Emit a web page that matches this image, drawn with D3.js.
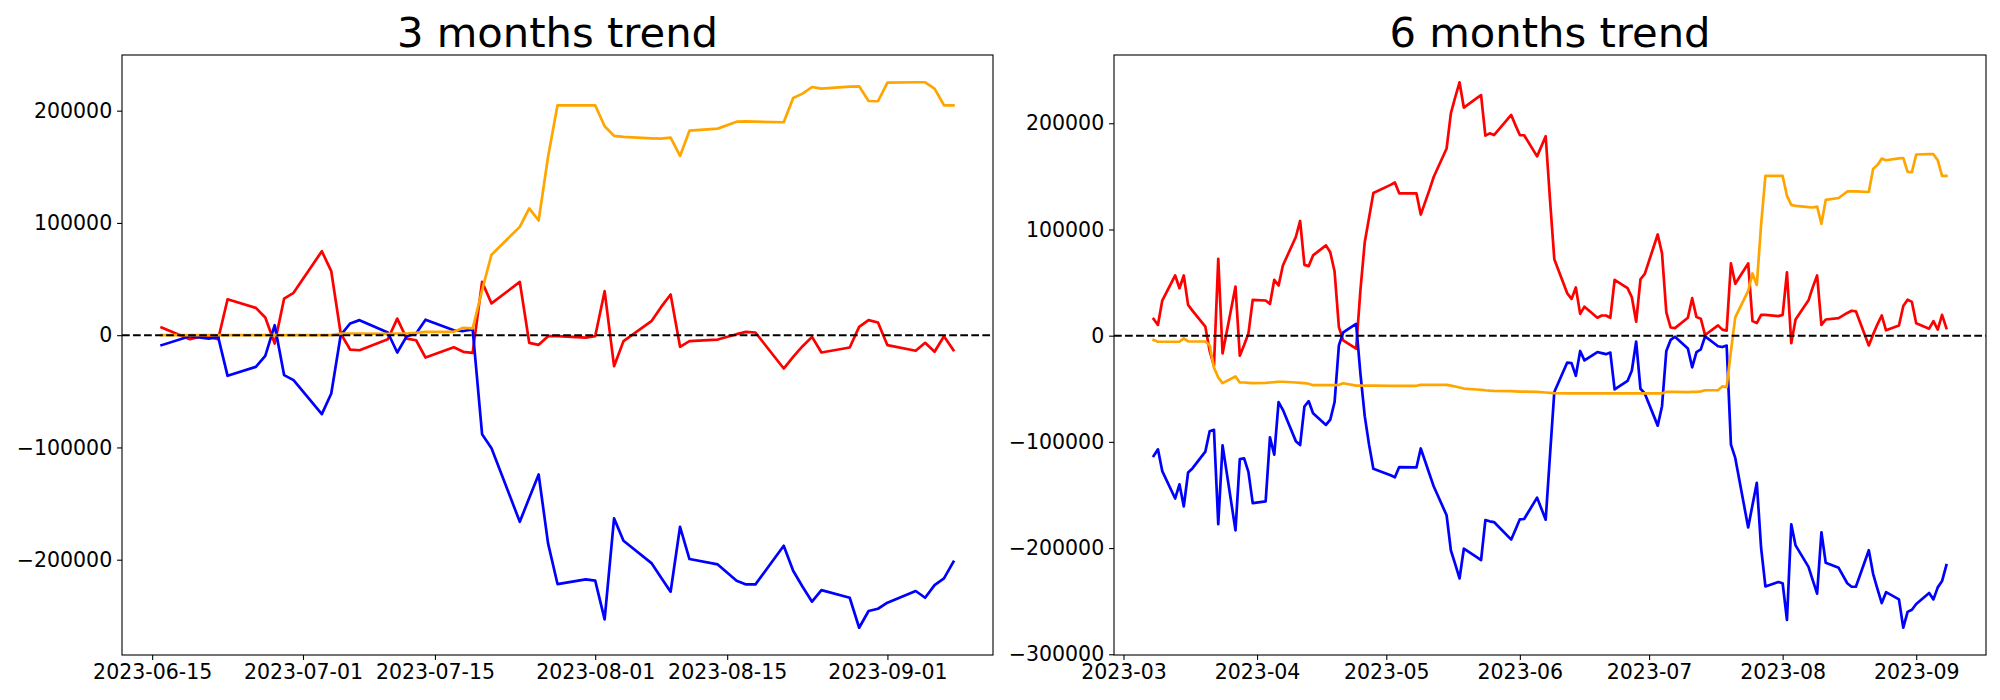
<!DOCTYPE html>
<html><head><meta charset="utf-8">
<script src="https://cdn.jsdelivr.net/npm/d3@7"></script>
<style>body{margin:0;background:#fff}</style>
</head><body>
<svg id="chart" width="2000" height="700"></svg>
<script>
const title3m = "3 months trend";
const title6m = "6 months trend";

const dates3m = [
"2023-06-16","2023-06-19","2023-06-20","2023-06-21","2023-06-22","2023-06-23",
"2023-06-26","2023-06-27","2023-06-28","2023-06-29","2023-06-30",
"2023-07-03","2023-07-04","2023-07-05","2023-07-06","2023-07-07",
"2023-07-10","2023-07-11","2023-07-12","2023-07-13","2023-07-14",
"2023-07-17","2023-07-18","2023-07-19","2023-07-20","2023-07-21",
"2023-07-24","2023-07-25","2023-07-26","2023-07-27","2023-07-28",
"2023-07-31","2023-08-01","2023-08-02","2023-08-03","2023-08-04",
"2023-08-07","2023-08-08","2023-08-09","2023-08-10","2023-08-11",
"2023-08-14","2023-08-16","2023-08-17","2023-08-18",
"2023-08-21","2023-08-22","2023-08-23","2023-08-24","2023-08-25",
"2023-08-28","2023-08-29","2023-08-30","2023-08-31","2023-09-01",
"2023-09-04","2023-09-05","2023-09-06","2023-09-07","2023-09-08"];

const blue3m = [
-8900,-1000,-2000,-3000,-1500,-36200,
-28200,-18400,8900,-35600,-40000,
-70300,-52000,0,10400,13400,
2400,-15400,-1000,1500,13800,
4400,3700,5100,-88200,-100700,
-166200,-145000,-124100,-185500,-221700,
-217600,-218700,-253200,-163200,-183100,
-203300,-216000,-228500,-170700,-199400,
-204200,-218700,-222000,-222000,
-187600,-209800,-224100,-237400,-227100,
-233900,-260600,-245700,-243700,-238300,
-227900,-233900,-222600,-216700,-201800];

const red3m = [
6800,-3600,-1500,-1500,-3600,32000,
24300,15700,-7400,32600,37700,
74800,57000,1500,-12800,-13400,
-3600,14800,-3000,-4500,-19900,
-10800,-14800,-15800,47500,28300,
47500,-6800,-8600,-900,-900,
-2100,-900,39200,-27600,-5300,
12800,25200,36200,-10400,-5300,
-3900,900,3000,2400,
-29700,-19300,-9800,-1500,-15400,
-11000,7400,13400,11300,-8900,
-13900,-6800,-14800,-900,-13400];

const orange3m = [
0,0,0,0,0,0,
0,0,0,0,0,
0,0,1500,1500,1500,
1200,1500,1500,2000,3000,
3000,6600,6000,40000,71700,
96500,113000,102200,159000,204800,
204800,204800,186100,177500,176600,
175400,175100,176000,159700,182200,
184000,190200,190400,190200,
189700,211300,215200,221100,219600,
221400,221700,208600,208400,225000,
225300,225300,219600,204800,204800];

const dates6m = [
"2023-03-08","2023-03-09","2023-03-10","2023-03-13","2023-03-14","2023-03-15","2023-03-16","2023-03-17",
"2023-03-20","2023-03-21","2023-03-22","2023-03-23","2023-03-24",
"2023-03-27","2023-03-28","2023-03-29","2023-03-30","2023-03-31",
"2023-04-03","2023-04-04","2023-04-05","2023-04-06","2023-04-07",
"2023-04-10","2023-04-11","2023-04-12","2023-04-13","2023-04-14",
"2023-04-17","2023-04-18","2023-04-19","2023-04-20","2023-04-21",
"2023-04-24","2023-04-25","2023-04-26","2023-04-27","2023-04-28",
"2023-05-02","2023-05-03","2023-05-04",
"2023-05-08","2023-05-09","2023-05-10","2023-05-11","2023-05-12",
"2023-05-15","2023-05-16","2023-05-17","2023-05-18","2023-05-19",
"2023-05-22","2023-05-23","2023-05-24","2023-05-25","2023-05-26",
"2023-05-30","2023-05-31","2023-06-01","2023-06-02",
"2023-06-05","2023-06-07","2023-06-08","2023-06-09",
"2023-06-12","2023-06-13","2023-06-14","2023-06-15",
"2023-06-16","2023-06-19","2023-06-20","2023-06-21","2023-06-22","2023-06-23",
"2023-06-26","2023-06-27","2023-06-28","2023-06-29","2023-06-30",
"2023-07-03","2023-07-04","2023-07-05","2023-07-06","2023-07-07",
"2023-07-10","2023-07-11","2023-07-12","2023-07-13","2023-07-14",
"2023-07-17","2023-07-18","2023-07-19","2023-07-20","2023-07-21",
"2023-07-24","2023-07-25","2023-07-26","2023-07-27","2023-07-28",
"2023-07-31","2023-08-01","2023-08-02","2023-08-03","2023-08-04",
"2023-08-07","2023-08-08","2023-08-09","2023-08-10","2023-08-11",
"2023-08-14","2023-08-16","2023-08-17","2023-08-18",
"2023-08-21","2023-08-22","2023-08-23","2023-08-24","2023-08-25",
"2023-08-28","2023-08-29","2023-08-30","2023-08-31","2023-09-01",
"2023-09-04","2023-09-05","2023-09-06","2023-09-07","2023-09-08"];

const blue6m = [
-113300,-107000,-127500,-153300,-140000,-160800,-128800,-125000,
-109200,-90000,-88600,-177400,-103300,
-183300,-116200,-115500,-128200,-157700,
-156000,-95800,-112000,-62500,-69800,
-99300,-103000,-66700,-61700,-73100,
-84000,-79000,-62500,-9200,3000,
11100,-36000,-75800,-102600,-125300,
-131500,-133300,-123700,
-124100,-106200,-118000,-130000,-141800,
-169100,-202300,-215100,-228600,-200600,
-208600,-211300,-173600,-174800,-175500,
-192000,-182500,-172900,-172600,
-152500,-173300,-112500,-53000,
-25300,-25800,-37800,-14400,
-23300,-15400,-16400,-17400,-15900,-50600,
-42600,-32800,-5500,-50000,-54400,
-84700,-66400,-14400,-4000,-1000,
-12000,-29800,-15400,-12900,-600,
-10000,-10700,-9300,-102600,-115100,
-180600,-159400,-138500,-199900,-236100,
-232000,-233100,-267600,-177600,-197500,
-217700,-230400,-242900,-185100,-213800,
-218600,-233100,-236400,-236400,
-202000,-224200,-238500,-251800,-241500,
-248300,-275000,-260100,-258100,-252700,
-242300,-248300,-237000,-231100,-216200];

const red6m = [
15700,10100,33100,56700,44700,56700,29000,23600,
8500,-14200,-28300,72400,-16700,
46300,-18900,-8800,2000,33700,
33100,29900,52600,47200,66100,
92900,108000,66700,65500,75600,
85000,78500,60400,8000,-4500,
-12300,43000,88000,111000,134400,
142000,144200,134000,
134000,114000,125500,137000,149400,
176300,209500,224500,238600,214800,
223600,226500,188400,190500,188900,
207800,198000,188900,188700,
168800,187800,128000,72000,
40000,34600,45400,20500,
27300,16900,19000,19000,16900,52500,
44800,36200,13100,53100,58200,
95300,77500,22000,7700,7100,
16900,35300,17500,16000,600,
9700,5700,4700,68000,48800,
68000,13700,11900,19600,19600,
18400,19600,59700,-7100,15200,
33300,45700,56700,10100,15200,
16600,21400,23500,22900,
-9200,1200,10700,19000,5100,
9500,27900,33900,31800,11600,
6600,13700,5700,19600,7100];

const orange6m = [
-4100,-5700,-5700,-5700,-5700,-2500,-5400,-5500,
-5500,-9000,-29900,-39400,-44700,
-38400,-44100,-44100,-44400,-44700,
-44400,-44100,-43800,-43400,-43400,
-44100,-44400,-44700,-45300,-46600,
-46600,-46600,-46600,-46300,-44800,
-47000,-47000,-47000,-47000,-47000,
-47200,-47200,-47200,
-47200,-46300,-46300,-46300,-46300,
-46300,-47000,-47900,-48800,-49800,
-50700,-51000,-51400,-51700,-51900,
-52200,-52400,-52600,-52600,
-52900,-53500,-53800,-54100,
-54400,-54400,-54400,-54400,
-54400,-54400,-54400,-54400,-54400,-54400,
-54400,-54400,-54400,-54400,-54400,
-54400,-54400,-52900,-52900,-52900,
-53200,-52900,-52900,-52400,-51400,
-51400,-47800,-48400,-14400,17300,
42100,58600,47800,104600,150400,
150400,150400,131700,123100,122200,
121000,120700,121600,105300,127800,
129600,135800,136000,135800,
135300,156900,160800,166700,165200,
167000,167300,154200,154000,170600,
170900,170900,165200,150400,150400];

const xTicks3m = ["2023-06-15","2023-07-01","2023-07-15","2023-08-01","2023-08-15","2023-09-01"];
const xTicks6m = ["2023-03-01","2023-04-01","2023-05-01","2023-06-01","2023-07-01","2023-08-01","2023-09-01"];
const yTicks3m = [-200000,-100000,0,100000,200000];
const yTicks6m = [-300000,-200000,-100000,0,100000,200000];

const panels = [
  {title: title3m, dates: dates3m, xTicks: xTicks3m, xFmt: "%Y-%m-%d", yTicks: yTicks3m, x0: 122, x1: 993,
   series: [{values: red3m, color: "#ff0000"}, {values: blue3m, color: "#0000ff"}, {values: orange3m, color: "#ffa500"}]},
  {title: title6m, dates: dates6m, xTicks: xTicks6m, xFmt: "%Y-%m", yTicks: yTicks6m, x0: 1114, x1: 1986,
   series: [{values: red6m, color: "#ff0000"}, {values: blue6m, color: "#0000ff"}, {values: orange6m, color: "#ffa500"}]}
];

const svg = d3.select("#chart");
svg.append("rect").attr("width", 2000).attr("height", 700).attr("fill", "#fff");
const Y0 = 55, Y1 = 655;
const FONT = "DejaVu Sans";
const parse = d3.timeParse("%Y-%m-%d");

panels.forEach(p => {
  const dts = p.dates.map(parse);
  const t0 = dts[0], t1 = dts[dts.length - 1];
  const pad = (t1 - t0) * 0.05;
  const x = d3.scaleTime().domain([new Date(+t0 - pad), new Date(+t1 + pad)]).range([p.x0, p.x1]);
  const all = p.series.flatMap(s => s.values);
  const mn = d3.min(all), mx = d3.max(all), r = mx - mn;
  const y = d3.scaleLinear().domain([mn - 0.05 * r, mx + 0.05 * r]).range([Y1, Y0]);
  const g = svg.append("g");

  p.series.forEach(s => {
    const line = d3.line().x((d, i) => x(dts[i])).y(d => y(d));
    g.append("path").datum(s.values).attr("d", line)
      .attr("fill", "none").attr("stroke", s.color).attr("stroke-width", 2.7)
      .attr("stroke-linejoin", "round").attr("stroke-linecap", "square");
  });

  g.append("line").attr("x1", p.x0).attr("x2", p.x1).attr("y1", y(0)).attr("y2", y(0))
    .attr("stroke", "#000").attr("stroke-width", 2.08).attr("stroke-dasharray", "7.7,3.33");

  g.append("rect").attr("x", p.x0).attr("y", Y0).attr("width", p.x1 - p.x0).attr("height", Y1 - Y0)
    .attr("fill", "none").attr("stroke", "#000").attr("stroke-width", 1.1);

  const xAxis = d3.axisBottom(x).tickValues(p.xTicks.map(parse)).tickFormat(d3.timeFormat(p.xFmt))
    .tickSizeOuter(0).tickSizeInner(4.9).tickPadding(4.9);
  const gx = g.append("g").attr("transform", `translate(0,${Y1})`).call(xAxis);
  const yAxis = d3.axisLeft(y).tickValues(p.yTicks).tickFormat(d3.format("d"))
    .tickSizeOuter(0).tickSizeInner(4.9).tickPadding(4.9);
  const gy = g.append("g").attr("transform", `translate(${p.x0},0)`).call(yAxis);
  [gx, gy].forEach(a => {
    a.select(".domain").remove();
    a.attr("font-size", 20.5).attr("font-family", FONT);
    a.selectAll(".tick line").attr("stroke", "#000").attr("stroke-width", 1.1);
    a.selectAll(".tick text").attr("fill", "#000");
  });

  g.append("text").attr("x", (p.x0 + p.x1) / 2).attr("y", 46.7)
    .attr("text-anchor", "middle").attr("font-family", FONT).attr("font-size", 41.7)
    .attr("fill", "#000").text(p.title);
});
</script>
</body></html>
